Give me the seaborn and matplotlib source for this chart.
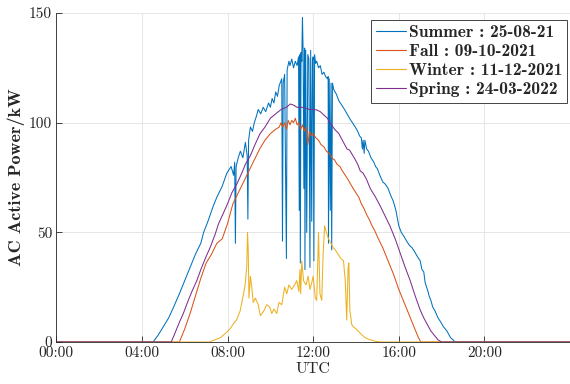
import numpy as np
import pandas as pd
import matplotlib
matplotlib.use("Agg")
import matplotlib.pyplot as plt
import seaborn as sns

# ---------------- data (minutes after midnight, kW) ----------------
summer_t = [0, 271, 285, 300, 315, 329, 345, 360, 375, 390, 405, 413, 425, 440, 450, 465,
            478, 490, 497, 500, 502, 504, 510, 516, 523, 530, 535, 537, 539, 544, 550, 555,
            561, 566, 573, 580, 587, 595, 600, 605, 610, 615, 620, 625, 632, 634, 636, 640,
            645, 647, 652, 655, 660, 665, 670, 675, 679, 681, 683, 684, 686, 688, 690, 692,
            694, 696, 697, 699, 702, 705, 708, 711, 713, 716, 718, 720, 722, 724, 727, 730,
            735, 740, 745, 750, 755, 760, 762, 763, 765, 768, 770, 772, 774, 778, 785, 792,
            800, 808, 815, 822, 830, 838, 845, 850, 855, 858, 860, 863, 865, 870, 875, 882,
            890, 895, 900, 907, 915, 922, 930, 937, 945, 952, 960, 967, 975, 982, 990, 997,
            1005, 1012, 1020, 1025, 1030, 1034, 1038, 1042, 1045, 1050, 1055, 1062, 1070,
            1078, 1085, 1095, 1105, 1112, 1118, 1440]
summer_v = [0, 0, 3, 7, 11, 16, 22, 28, 34, 40, 45, 50, 55, 62, 66, 71,
            77, 80, 76, 82, 45, 80, 84, 87, 84, 91, 85, 56, 92, 98, 96, 100,
            103, 106, 104, 107, 105, 109, 107, 111, 109, 114, 112, 117, 120, 46, 118, 122,
            38, 124, 128, 126, 129, 125, 128, 126, 130, 60, 131, 36, 132, 128, 148, 131,
            70, 134, 33, 133, 50, 131, 129, 34, 133, 55, 128, 130, 37, 131, 127, 128,
            125, 126, 122, 123, 121, 120, 121, 45, 120, 60, 118, 42, 118, 115, 113, 110,
            108, 106, 104, 102, 100, 98, 96, 94, 93, 88, 92, 86, 92, 88, 87, 84,
            82, 80, 79, 76, 73, 72, 70, 67, 64, 60, 53, 50, 48, 46, 44, 43,
            41, 39, 37, 33, 32, 27, 25, 23, 21, 19, 16, 14, 11,
            9, 7, 5, 2, 1, 0, 0]

fall_t = [0, 345, 360, 375, 390, 405, 420, 435, 450, 465, 480, 495, 510, 525, 540, 555,
          570, 585, 600, 615, 625, 630, 635, 640, 645, 650, 655, 660, 665, 670, 675, 680,
          685, 690, 695, 700, 705, 710, 715, 720, 728, 735, 742, 750, 757, 765, 772, 780,
          787, 795, 802, 810, 818, 825, 832, 840, 848, 855, 862, 870, 877, 885, 892, 900,
          915, 930, 945, 960, 975, 990, 1005, 1015, 1022, 1440]
fall_v = [0, 0, 6, 13, 21, 29, 36, 40, 45, 47, 54, 63, 68, 73, 78, 83,
          88, 92, 95, 97, 98, 100, 98, 100, 97, 101, 99, 101, 100, 102, 99, 100,
          97, 99, 96, 98, 90, 96, 94, 95, 93, 92, 90, 89, 87, 86, 84, 83,
          81, 80, 78, 76, 74, 72, 70, 68, 66, 63, 61, 58, 56, 53, 51, 48,
          43, 37, 31, 24, 18, 12, 6, 2, 0, 0]

spring_t = [0, 322, 330, 345, 356, 370, 380, 394, 405, 420, 431, 445, 455, 469, 480, 492,
            506, 520, 530, 544, 557, 571, 585, 600, 615, 630, 645, 656, 665, 675, 690,
            700, 710, 720, 730, 740, 750, 760, 767, 780, 792, 805, 815, 822, 835, 845, 852,
            860, 870, 880, 895, 908, 920, 935, 950, 964, 978, 992, 1006, 1020, 1030, 1040,
            1050, 1060, 1070, 1080, 1440]
spring_v = [0, 0, 3, 9, 13, 19, 23, 28, 33, 39, 43, 49, 54, 59, 63, 68,
            72, 77, 81, 85, 90, 95, 98, 102, 104, 106, 107, 108.5, 108, 107, 107,
            106.5, 106, 106, 105.8, 105, 103.5, 102, 100, 97, 95, 91, 88, 87.5, 84, 81, 78,
            77, 74, 70, 66, 62, 58, 53, 47, 40.5, 34, 28, 21, 14.6, 11, 8,
            5, 3, 1, 0, 0]

winter_t = [0, 430, 445, 460, 475, 487, 495, 505, 515, 520, 525, 530, 534, 536, 538, 540,
            544, 548, 552, 558, 566, 572, 581, 590, 598, 604, 610, 618, 624, 632, 640,
            646, 652, 660, 668, 674, 680, 683, 685, 688, 693, 700, 706, 711, 716, 720,
            726, 730, 735, 739, 744, 748, 752, 757, 763, 770, 776, 782, 790, 798, 805,
            810, 814, 818, 820, 823, 826, 828, 832, 840, 852, 865, 880, 895, 908, 1440]
winter_v = [0, 0, 1, 2, 4, 6, 8, 10, 14, 18, 22, 27, 35, 50, 42, 20,
            30, 25, 18, 20, 17, 12, 14, 17, 16, 13, 15, 13, 18, 17, 25, 22,
            26, 24, 26, 28, 23, 33, 22, 37, 28, 26, 30, 24, 27, 30, 20,
            19, 50, 22, 19, 40, 53, 50, 47, 45, 43, 42, 40, 38, 37, 28,
            10, 34, 36, 14, 11, 8, 7, 6, 4, 2, 1, 0.3, 0, 0]

labels = ["Summer : 25-08-21", "Fall : 09-10-2021",
          "Winter : 11-12-2021", "Spring : 24-03-2022"]
colors = ["#0072BD", "#D95319", "#EDB120", "#7E2F8E"]
xticks_min = [0, 240, 480, 720, 960, 1200]
xtick_labels = ["00:00", "04:00", "08:00", "12:00", "16:00", "20:00"]
yticks = [0, 50, 100, 150]

# ---------------- build long table ----------------
frames = []
for lab, t, v in [(labels[0], summer_t, summer_v), (labels[1], fall_t, fall_v),
                  (labels[2], winter_t, winter_v), (labels[3], spring_t, spring_v)]:
    frames.append(pd.DataFrame({"t": np.array(t, float) / 60.0, "v": v, "series": lab}))
df = pd.concat(frames, ignore_index=True)

sns.set_theme(style="ticks")
plt.rcParams["font.family"] = ["cmr10", "DejaVu Serif"]
plt.rcParams["axes.unicode_minus"] = False
plt.rcParams["axes.formatter.use_mathtext"] = True

fig = plt.figure(figsize=(5.70, 3.84), dpi=100)
ax = fig.add_axes([0.0988, 0.1094, 0.9012, 0.8568])

sns.lineplot(data=df, x="t", y="v", hue="series", hue_order=labels,
             palette=colors, estimator=None, sort=False, linewidth=0.75,
             ax=ax, legend=False)

ax.set_xlim(0, 24)
ax.set_ylim(0, 150)
ax.set_xticks(np.array(xticks_min) / 60.0)
ax.set_xticklabels(xtick_labels)
ax.set_yticks(yticks)
ax.set_yticklabels([str(y) for y in yticks])
ax.grid(True, color="#e6e6e6", linewidth=0.7)
ax.set_axisbelow(True)
for s in ["top", "right"]:
    ax.spines[s].set_visible(False)
for s in ["left", "bottom"]:
    ax.spines[s].set_color("#262626")
    ax.spines[s].set_linewidth(0.6)
ax.tick_params(direction="in", length=4, width=0.6, color="#262626",
               labelsize=11, labelcolor="#262626", pad=3)

ax.set_xlabel("UTC", fontsize=11.5, color="#262626", labelpad=2)
ax.set_ylabel("AC Active Power/kW", fontsize=13, color="#262626",
              family=["cmb10", "DejaVu Serif"], labelpad=3)

handles = [plt.Line2D([], [], color=c, linewidth=0.8) for c in colors]
leg = ax.legend(handles, labels, loc="upper right", bbox_to_anchor=(0.995, 0.98),
                borderaxespad=0, frameon=True, fancybox=False, handlelength=1.7,
                handletextpad=0.15, labelspacing=0.22, borderpad=0.3,
                prop={"family": ["cmb10", "DejaVu Serif"], "size": 12.6})
leg.get_frame().set_edgecolor("#262626")
leg.get_frame().set_linewidth(0.6)
leg.get_frame().set_alpha(1)

fig.savefig("out.png", dpi=100)
